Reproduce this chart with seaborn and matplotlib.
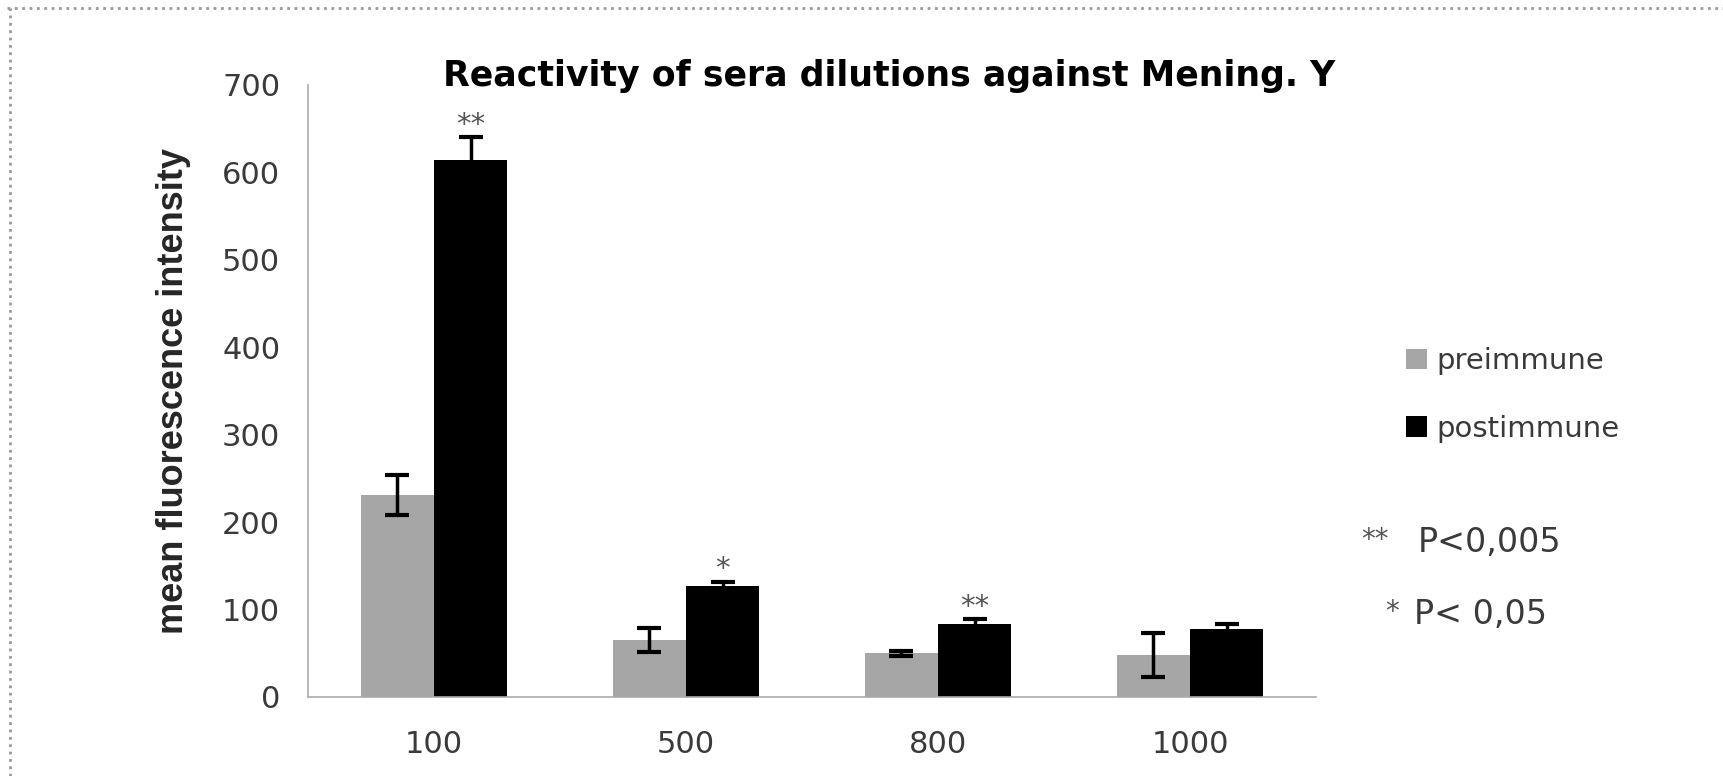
import matplotlib
matplotlib.use("Agg")
import matplotlib.pyplot as plt
from matplotlib.lines import Line2D
from matplotlib.patches import Patch
import numpy as np
import pandas as pd
import seaborn as sns

# Serum dilutions and mean fluorescence intensity per group
dilutions = ["100", "500", "800", "1000"]
groups = ["preimmune", "postimmune"]
preimmune = [231, 65, 50, 48]
postimmune = [614, 127, 84, 78]
pre_err = [23, 14, 3, 25]
post_err = [26, 5, 5, 5]
significance = ["**", "*", "**", ""]
yticks = [0, 100, 200, 300, 400, 500, 600, 700]

colors = {"preimmune": "#a6a6a6", "postimmune": "#000000"}

df = pd.DataFrame({
    "dilution": dilutions * 2,
    "group": [groups[0]] * 4 + [groups[1]] * 4,
    "mfi": preimmune + postimmune,
    "err": pre_err + post_err,
})

sns.set_style("white")
plt.rcParams["font.family"] = ["DejaVu Sans"]

text_grey = "#3a3a3a"

fig = plt.figure(figsize=(17.24, 7.76), dpi=100)
ax = fig.add_axes([308 / 1724, 1 - 697 / 776, (1316 - 308) / 1724, (697 - 85) / 776])

sns.barplot(data=df, x="dilution", y="mfi", hue="group", order=dilutions,
            hue_order=groups, palette=colors, width=0.58, gap=0,
            errorbar=None, legend=False, ax=ax, edgecolor="none")

# error bars and significance marks at the centre of each drawn bar
bars = ax.patches[:8]
errs = pre_err + post_err
vals = preimmune + postimmune
for i, (bar, v, e) in enumerate(zip(bars, vals, errs)):
    xc = bar.get_x() + bar.get_width() / 2
    ax.errorbar(xc, v, yerr=e, fmt="none", ecolor="black", elinewidth=2.5,
                capsize=8.5, capthick=3, zorder=5)
    if i >= 4 and significance[i - 4]:
        ax.text(xc, v + e - 2, significance[i - 4], ha="center", va="bottom",
                fontsize=21, color="#555555")

ax.set_ylim(0, 700)
ax.set_xlim(-0.5, 3.5)
ax.set_yticks(yticks)
ax.set_yticklabels([str(t) for t in yticks], fontsize=22, color=text_grey)
ax.set_xticks(range(len(dilutions)))
ax.set_xticklabels(dilutions, fontsize=22, color=text_grey)
ax.set_xticks(np.arange(-0.5, 4, 1.0), minor=True)
ax.tick_params(axis="x", which="major", length=0, pad=24)
ax.tick_params(axis="x", which="minor", length=9, width=1, color="#aaaaaa",
               direction="out")
ax.tick_params(axis="y", which="major", length=6, width=1, color="#aaaaaa",
               direction="out", pad=14)
ax.set_xlabel("")
ax.set_ylabel("mean fluorescence intensity",
              family=["Liberation Sans", "DejaVu Sans"],
              fontweight="bold", fontsize=26, labelpad=22)

for side in ["top", "right"]:
    ax.spines[side].set_visible(False)
for side in ["left", "bottom"]:
    ax.spines[side].set_color("#aaaaaa")
    ax.spines[side].set_linewidth(1.2)

fig.text(889 / 1724, 1 - 76 / 776, "Reactivity of sera dilutions against Mening. Y",
         ha="center", va="center", fontsize=25, fontweight="bold",
         color="black")

handles = [Patch(facecolor=colors[g], edgecolor="none", label=g) for g in groups]
fig.legend(handles=handles, loc="center left", bbox_to_anchor=(1380 / 1724, 1 - 395 / 776),
           frameon=False, fontsize=21, handlelength=0.7, handleheight=0.7,
           handletextpad=0.35, labelspacing=1.35, labelcolor=text_grey)

fig.text(1361 / 1724, 1 - 540 / 776, "**", ha="left", va="center",
         fontsize=20, color="#555555")
fig.text(1418 / 1724, 1 - 542 / 776, "P<0,005", ha="left", va="center",
         fontsize=24, color=text_grey)
fig.text(1385 / 1724, 1 - 612 / 776, "*", ha="left", va="center",
         fontsize=20, color="#555555")
fig.text(1414 / 1724, 1 - 614 / 776, "P< 0,05", ha="left", va="center",
         fontsize=24, color=text_grey)

# dotted frame along the top and left edges
fig.add_artist(Line2D([0.004, 1.0], [1 - 8 / 776] * 2, transform=fig.transFigure,
                      color="#999999", lw=2, ls=":"))
fig.add_artist(Line2D([10 / 1724] * 2, [0.0, 1 - 8 / 776], transform=fig.transFigure,
                      color="#999999", lw=2, ls=":"))

fig.savefig("out.png", dpi=100)
